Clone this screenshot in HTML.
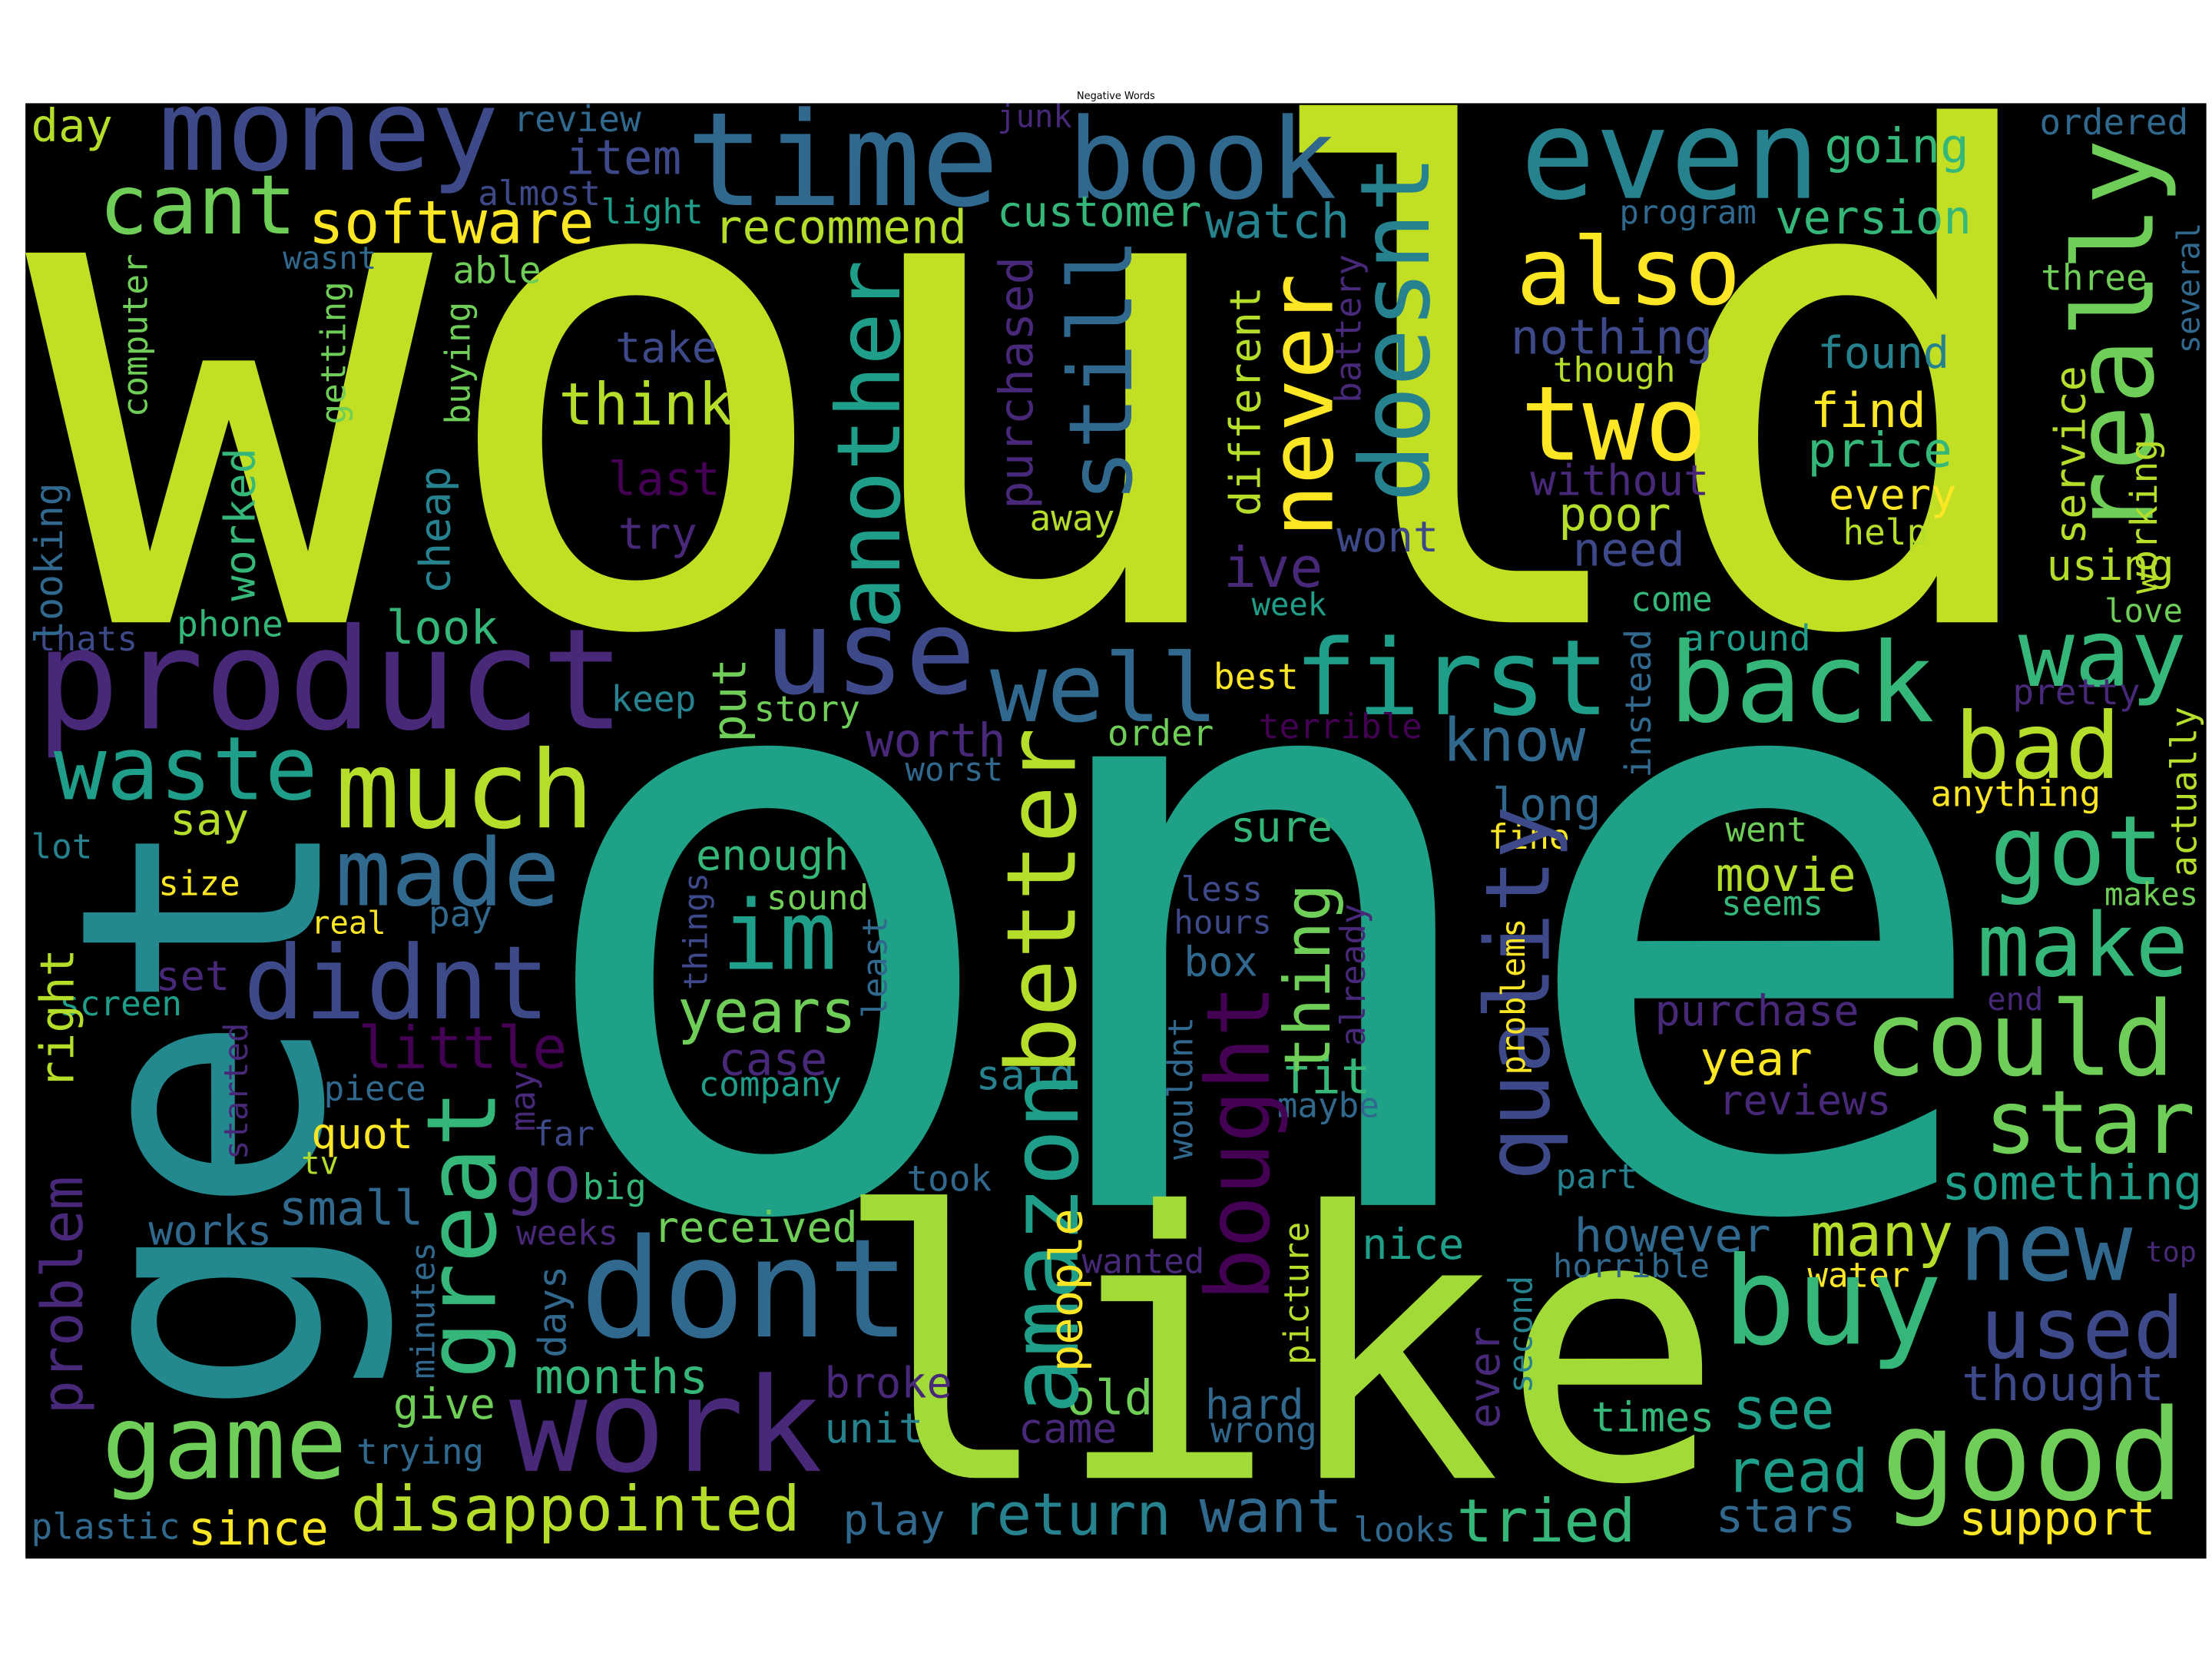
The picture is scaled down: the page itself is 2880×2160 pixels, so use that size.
<!DOCTYPE html>
<html><head><meta charset="utf-8"><title>Negative Words</title>
<style>
html,body{margin:0;padding:0;background:#fff;width:2880px;height:2160px;overflow:hidden}
svg{display:block}
text{font-family:"DejaVu Sans Mono","Liberation Mono",monospace}
</style></head>
<body>
<svg id="chart" width="2880" height="2160" viewBox="0 0 1564 1173" preserveAspectRatio="none" xmlns="http://www.w3.org/2000/svg">
<rect x="0" y="0" width="1564" height="1173" fill="#fff"/>
<text x="789" y="70" font-size="7" text-anchor="middle" fill="#000" style="font-family:'DejaVu Sans','Liberation Sans',sans-serif">Negative Words</text>
<rect x="18" y="73" width="1542" height="1029" fill="#000"/>
<g id="words"></g>
</svg>
<script>
const palette = {a:"#440154",b:"#482878",c:"#3e4989",d:"#31688e",e:"#26828e",f:"#1f9e89",g:"#35b779",h:"#6ece58",i:"#b5de2b",j:"#fde725",k:"#c2df23",o:"#1fa188",l:"#a2da37",t:"#23898e"};
// word | x | y | size | colour | rotated(1) ; horizontal: x=left,y=baseline ; rotated: x=baseline,y=bottom
const words = [
"would|18|440|478|k|0","one|368|852|580|o|0","like|588|1045|262|l|0","get|226|1003|238|t|1",
"money|112|120|80|c|0","time|485|145|92|d|0","book|755|140|79|d|0","even|1075|140|88|e|0",
"cant|70|165|58|h|0","software|218|172|42|j|0","recommend|505|172|33|i|0","customer|705|160|30|g|0",
"watch|852|168|34|e|0","going|1290|115|34|g|0","version|1255|165|33|g|0","ordered|1442|95|25|d|0",
"review|363|93|25|d|0","junk|705|90|22|b|0","day|22|100|32|i|0","item|400|123|34|c|0",
"almost|338|145|24|c|0","light|425|158|24|f|0","wasnt|200|190|22|d|0","able|320|200|26|h|0",
"program|1145|158|23|d|0","three|1443|205|25|h|0","also|1072|215|66|j|0","take|435|256|30|c|0",
"think|395|300|41|i|0","nothing|1068|250|34|c|0","though|1098|270|24|i|0","found|1285|260|31|e|0",
"two|1075|325|73|j|0","find|1280|302|34|j|0","price|1278|330|34|g|0","last|430|350|33|a|0",
"try|437|388|31|b|0","without|1082|350|30|b|0","every|1293|360|30|j|0","poor|1102|375|33|i|0",
"help|1303|385|25|i|0","need|1112|400|33|c|0","away|728|375|25|i|0","wont|945|390|30|c|0",
"ive|865|415|39|b|0","using|1447|410|30|i|0","week|885|435|22|f|0","come|1153|432|24|g|0",
"love|1488|440|23|h|0","thats|25|460|24|c|0","phone|125|450|25|g|0","look|273|455|33|g|0",
"around|1190|460|25|f|0","product|25|515|99|b|0","use|540|490|83|c|0","well|700|510|67|d|0",
"first|915|505|74|f|0","back|1180|510|78|g|0","way|1427|485|66|g|0","best|858|487|25|j|0",
"keep|432|503|25|e|0","story|533|510|25|h|0","pretty|1423|498|25|b|0","terrible|890|522|24|a|0",
"worth|612|535|33|b|0","order|783|527|25|h|0","know|1020|538|42|d|0","bad|1382|550|65|i|0",
"waste|38|565|62|f|0","much|237|585|76|i|0","worst|640|552|23|d|0","say|120|590|31|i|0",
"anything|1365|570|25|j|0","long|1055|580|32|d|0","sure|870|595|30|g|0","went|1220|595|24|h|0",
"lot|22|607|24|e|0","fine|1052|600|24|j|0","got|1407|625|68|g|0","enough|492|615|30|g|0",
"made|237|640|66|d|0","size|112|633|24|j|0","sound|542|643|24|h|0","movie|1213|630|33|i|0",
"less|835|637|24|c|0","seems|1217|647|24|g|0","makes|1488|640|22|h|0","real|220|660|22|j|0",
"pay|303|655|25|d|0","hours|830|660|23|c|0","im|510|685|68|f|0","make|1398|690|62|g|0",
"didnt|172|720|72|c|0","box|837|690|29|d|0","set|110|700|29|b|0","end|1405|714|22|b|0",
"purchase|1170|725|30|b|0","years|479|730|42|h|0","screen|42|718|24|f|0","little|253|755|41|a|0",
"could|1318|760|73|h|0","fit|906|773|35|g|0","case|508|760|32|b|0","year|1202|760|33|j|0",
"said|690|770|29|e|0","company|494|775|24|f|0","piece|229|778|24|d|0","reviews|1215|788|29|b|0",
"maybe|903|790|24|d|0","star|1403|815|62|h|0","quot|220|812|30|j|0","far|377|810|24|c|0",
"tv|213|830|22|i|0","took|641|842|25|d|0","part|1100|840|24|e|0","go|357|850|45|b|0",
"something|1373|848|34|f|0","big|412|848|25|g|0","small|197|866|34|d|0","received|462|878|30|h|0",
"nice|963|890|30|f|0","however|1113|885|33|d|0","many|1280|888|42|i|0","works|105|880|29|d|0",
"weeks|365|880|24|b|0","new|1385|905|68|d|0","top|1517|892|20|b|0","wanted|765|900|24|b|0",
"horrible|1098|903|23|d|0","water|1278|910|24|j|0","dont|410|945|97|d|0","buy|1218|950|86|g|0",
"used|1400|960|60|c|0","months|378|985|34|g|0","broke|583|988|30|b|0","thought|1387|990|34|c|0",
"give|278|1003|30|h|0","old|754|1000|34|h|0","hard|852|1003|29|d|0","see|1225|1010|40|f|0",
"times|1125|1012|29|g|0","game|72|1045|72|h|0","work|360|1040|92|b|0","unit|583|1020|29|e|0",
"came|720|1020|29|b|0","wrong|856|1020|25|d|0","trying|252|1035|25|d|0","good|1330|1060|89|h|0",
"read|1220|1055|42|f|0","disappointed|248|1082|44|i|0","since|133|1092|33|j|0","plastic|22|1088|25|d|0",
"play|596|1085|30|d|0","return|680|1085|41|e|0","want|848|1083|42|d|0","looks|957|1090|24|d|0",
"tried|1030|1090|42|g|0","stars|1213|1083|33|d|0","support|1385|1085|33|j|0",
"computer|104|295|24|h|1","getting|244|300|24|h|1","buying|332|300|24|h|1","worked|180|425|30|g|1",
"cheap|318|420|30|e|1","looking|44|455|27|d|1","another|636|445|62|f|1","purchased|730|360|33|b|1",
"still|800|355|62|d|1","never|942|380|62|j|1","different|891|365|30|i|1","battery|962|285|25|b|1",
"doesnt|1010|355|68|e|1","really|1522|380|78|h|1","service|1474|385|30|i|1","working|1525|420|26|i|1",
"several|1555|250|22|d|1","put|527|525|33|h|1","instead|1167|550|25|d|1","actually|1553|620|25|i|1",
"better|760|760|68|i|1","quality|1095|835|63|c|1","amazon|762|1000|67|f|1","thing|940|760|45|h|1",
"bought|897|920|62|a|1","already|965|740|24|b|1","problems|1078|760|23|j|1","things|500|700|23|c|1",
"least|627|720|24|d|1","right|52|770|33|i|1","started|175|820|23|b|1","may|378|800|24|b|1",
"wouldnt|843|820|24|d|1","great|350|975|68|g|1","problem|58|1000|40|b|1","people|765|970|32|j|1",
"picture|925|965|24|i|1","days|400|960|27|d|1","minutes|307|975|23|d|1","second|1083|985|23|e|1",
"ever|1060|1010|30|b|1"
];
const g = document.getElementById('words');
const NS = "http://www.w3.org/2000/svg";
words.forEach(function(row){
  const p = row.split('|');
  const t = document.createElementNS(NS,'text');
  const x = +p[1], y = +p[2], s = +p[3];
  t.setAttribute('x', x);
  t.setAttribute('y', y);
  t.setAttribute('font-size', s);
  t.setAttribute('fill', palette[p[4]]);
  if (p[5] === '1') t.setAttribute('transform', 'rotate(-90 ' + x + ' ' + y + ')');
  t.textContent = p[0];
  
  
  g.appendChild(t);
});
</script>
</body></html>
